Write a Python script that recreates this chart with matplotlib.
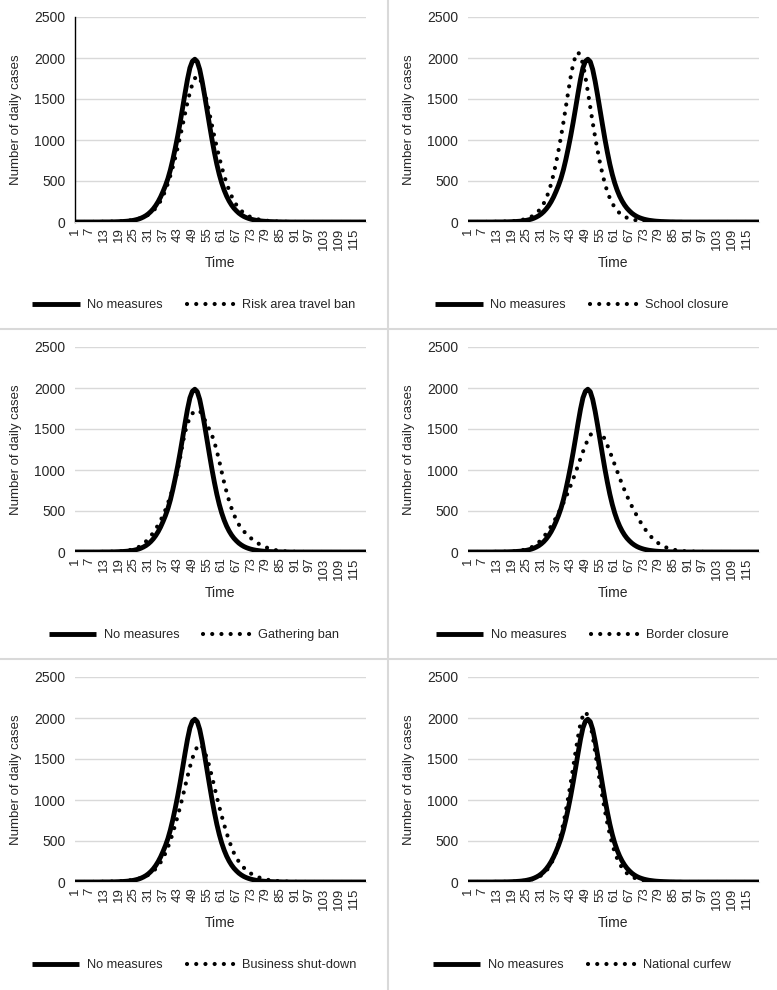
import matplotlib
matplotlib.use("Agg")
import matplotlib.pyplot as plt
from matplotlib.lines import Line2D

plt.rcParams['font.family'] = ['Liberation Sans', 'DejaVu Sans']

time = list(range(1, 121))
tick_values = list(range(1, 121, 6))
tick_labels = [str(t) for t in tick_values]
y_ticks = [0, 500, 1000, 1500, 2000, 2500]

no_measures = ([0] * 11 +
    [1, 1, 1, 1, 2, 2, 3, 4, 5,
     7, 9, 12, 16, 21, 28, 36, 47, 61, 78,
     100, 127, 160, 200, 248, 305, 372, 445, 530, 635,
     760, 900, 1050, 1215, 1390, 1570, 1740, 1880, 1960, 1985,
     1955, 1860, 1715, 1545, 1365, 1185, 1010, 850, 705, 580,
     475, 388, 316, 257, 208, 168, 136, 108, 86, 68,
     54, 43, 34, 27, 21, 17, 13, 10, 8, 6,
     5, 4, 3, 2, 2, 1, 1, 1, 0, 0] + [0] * 30)

risk_area_travel_ban = ([0] * 7 +
    [1, 1, 1, 1, 2, 2, 3, 3, 4, 5, 6, 7, 9,
     11, 14, 17, 21, 26, 32, 39, 48, 59, 71,
     89, 110, 137, 169, 208, 258, 317, 388, 472, 566,
     671, 787, 911, 1041, 1180, 1322, 1460, 1582, 1682, 1752,
     1780, 1752, 1682, 1582, 1460, 1322, 1180, 1041, 911, 787,
     671, 566, 472, 388, 317, 258, 208, 169, 137, 110,
     89, 71, 59, 48, 39, 32, 26, 21, 17, 14,
     11, 9, 7, 6, 5, 4, 3, 3, 2, 2,
     1, 1, 1, 1] + [0] * 26)

school_closure = ([0] * 7 +
    [1, 1, 1, 1, 2, 2, 3, 4, 5, 6, 7, 10, 12,
     15, 20, 25, 32, 41, 52, 66, 84, 108, 139,
     178, 228, 290, 368, 466, 584, 718, 871, 1035, 1211,
     1400, 1590, 1772, 1927, 2025, 2070, 2025, 1927, 1772, 1590,
     1400, 1211, 1035, 871, 718, 584, 466, 368, 290, 228,
     178, 139, 108, 84, 66, 52, 41, 32, 25, 20,
     15, 12, 10, 7, 6, 5, 4, 3, 2, 2,
     1, 1, 1, 1] + [0] * 36)

gathering_ban = ([0] * 11 +
    [1, 1, 2, 2, 3, 4, 5, 7, 9,
     12, 16, 21, 27, 35, 45, 60, 78, 100, 128,
     160, 195, 235, 280, 330, 385, 445, 515, 595, 680,
     775, 880, 1000, 1150, 1320, 1460, 1565, 1640, 1690, 1715,
     1725, 1720, 1680, 1615, 1555, 1490, 1425, 1340, 1230, 1110,
     975, 845, 730, 625, 535, 455, 390, 335, 290, 254,
     222, 193, 167, 144, 123, 103, 86, 71, 58, 47,
     38, 30, 23, 18, 14, 11, 8, 6, 5, 4,
     3, 2, 2, 1, 1] + [0] * 25)

border_closure = ([0] * 9 +
    [1, 1, 1, 2, 2, 3, 3, 4, 5, 7, 9,
     12, 16, 21, 27, 35, 45, 58, 75, 95, 120,
     150, 185, 225, 268, 315, 365, 418, 475, 535, 598,
     665, 737, 812, 890, 972, 1055, 1140, 1222, 1300, 1370,
     1425, 1460, 1478, 1482, 1470, 1430, 1370, 1300, 1225, 1145,
     1065, 985, 905, 828, 755, 685, 620, 558, 500, 445,
     392, 342, 296, 254, 216, 182, 152, 126, 104, 85,
     69, 56, 45, 36, 29, 23, 18, 14, 11, 9,
     7, 6, 5, 4, 3, 3, 2, 2, 1, 1] + [0] * 20)

business_shut_down = ([0] * 5 +
    [1, 1, 1, 1, 2, 2, 2, 3, 3, 4, 5, 6, 7, 9, 10,
     13, 15, 18, 23, 27, 33, 40, 49, 59, 72,
     87, 109, 133, 161, 197, 240, 292, 353, 425, 506,
     598, 699, 805, 917, 1035, 1161, 1285, 1404, 1510, 1583,
     1653, 1680, 1653, 1583, 1510, 1404, 1285, 1161, 1035, 917,
     805, 699, 598, 506, 425, 353, 295, 248, 208, 175,
     147, 123, 102, 85, 70, 58, 48, 39, 32, 26,
     21, 17, 14, 11, 9, 7, 6, 5, 4, 3,
     3, 2, 2, 1, 1, 1, 1] + [0] * 23)

national_curfew = ([0] * 10 +
    [1, 1, 1, 1, 2, 2, 3, 4, 5, 6,
     7, 9, 12, 15, 19, 24, 31, 39, 51, 64,
     82, 106, 137, 174, 224, 286, 363, 461, 579, 714,
     865, 1033, 1208, 1398, 1589, 1772, 1932, 2029, 2075, 2029,
     1932, 1772, 1589, 1398, 1208, 1033, 865, 714, 579, 461,
     363, 286, 224, 174, 137, 106, 82, 64, 51, 39,
     31, 24, 19, 15, 12, 9, 7, 6, 5, 4,
     3, 2, 2, 1, 1, 1, 1] + [0] * 33)

base_label = "No measures"
panels = [
    ("Risk area travel ban", risk_area_travel_ban),
    ("School closure", school_closure),
    ("Gathering ban", gathering_ban),
    ("Border closure", border_closure),
    ("Business shut-down", business_shut_down),
    ("National curfew", national_curfew),
]

W, H = 777, 990
fig = plt.figure(figsize=(W / 100, H / 100), dpi=100)
fig.patch.set_facecolor('white')

col_left = [75, 468]
row_top = [17, 347, 677]
ax_w, ax_h = 291, 205
text_color = '#262626'
solid_lw = 3.5
dot_lw = 3.0
dot_style = (0, (0.01, 2.2))

for i, (name, vals) in enumerate(panels):
    r, c = divmod(i, 2)
    left = col_left[c] / W
    bottom = 1 - (row_top[r] + ax_h) / H
    ax = fig.add_axes([left, bottom, ax_w / W, ax_h / H])
    ax.plot(time, no_measures, color='black', lw=solid_lw, solid_capstyle='butt',
            solid_joinstyle='round', zorder=3)
    ax.plot(time, vals, color='black', lw=dot_lw, linestyle=dot_style,
            dash_capstyle='round', zorder=4)
    ax.set_xlim(1, 120)
    ax.set_ylim(0, 2500)
    ax.set_yticks(y_ticks)
    ax.set_xticks(tick_values)
    ax.set_xticklabels(tick_labels, rotation=90)
    ax.grid(axis='y', color='#d9d9d9', lw=1.0)
    ax.set_axisbelow(True)
    for s in ['top', 'right', 'left']:
        ax.spines[s].set_visible(False)
    ax.spines['bottom'].set_color('#d9d9d9')
    if i == 0:
        ax.spines['left'].set_visible(True)
        ax.spines['left'].set_color('black')
        ax.spines['left'].set_linewidth(1.0)
    ax.tick_params(axis='both', length=0, colors=text_color)
    ax.tick_params(axis='y', labelsize=10, pad=7)
    ax.tick_params(axis='x', labelsize=9.5, pad=4)
    ax.set_ylabel("Number of daily cases", fontsize=9.5, color=text_color)
    ax.yaxis.set_label_coords(-0.182, 0.5)
    ax.set_xlabel("Time", fontsize=10, color=text_color)
    ax.xaxis.set_label_coords(0.5, -0.2)
    ax.xaxis.label.set_va('center')

    handles = [Line2D([], [], color='black', lw=solid_lw, solid_capstyle='butt'),
               Line2D([], [], color='black', lw=dot_lw, linestyle=dot_style,
                      dash_capstyle='round')]
    cx = 194 + 388 * c
    cy = 305 + 330 * r
    fig.legend(handles, [base_label, name], loc='center',
               bbox_to_anchor=(cx / W, 1 - cy / H), ncol=2, frameon=False,
               fontsize=9.2, handlelength=3.7, columnspacing=1.9,
               handletextpad=0.6, labelcolor=text_color)

div_color = '#d9d9d9'
fig.add_artist(Line2D([388 / W, 388 / W], [0, 1], color=div_color, lw=1.5,
                      transform=fig.transFigure))
for yy in [329, 659]:
    fig.add_artist(Line2D([0, 1], [1 - yy / H, 1 - yy / H], color=div_color,
                          lw=1.5, transform=fig.transFigure))

fig.savefig("out.png", dpi=100, facecolor='white')
